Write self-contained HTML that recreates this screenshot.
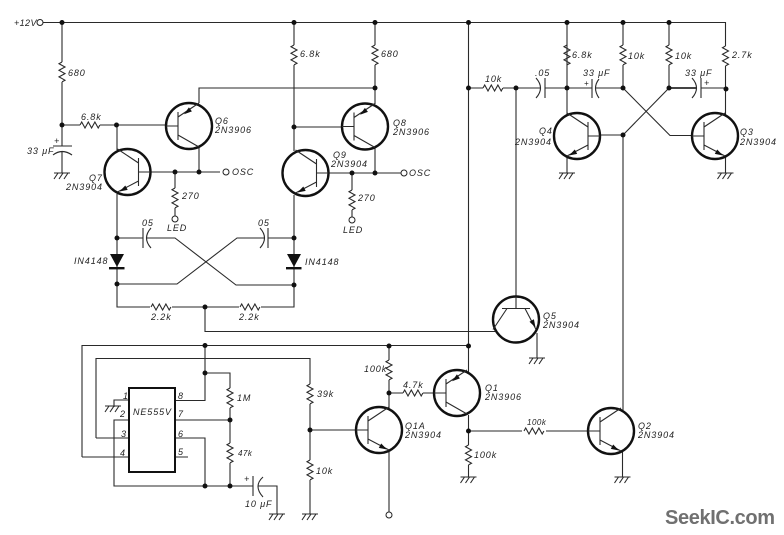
<!DOCTYPE html>
<html><head><meta charset="utf-8"><style>
html,body{margin:0;padding:0;background:#fff}
svg{display:block;filter:blur(.35px)}
.w{fill:none;stroke:#2a2a2a;stroke-width:1.1}
text{font:italic 9px "Liberation Sans",sans-serif;letter-spacing:.9px;fill:#222}
.s{font-size:8px;letter-spacing:.5px}
</style></head><body>
<svg width="784" height="535" viewBox="0 0 784 535" xmlns="http://www.w3.org/2000/svg">
<defs>
<circle id="d" r="2.500" fill="#111"/>
<circle id="o" r="3" fill="#fff" stroke="#222" stroke-width="1"/>
<path id="rv" class="w" d="M0 0l-3 1.7 6 3.3-6 3.3 6 3.3-6 3.3 6 3.3-3 1.7"/>
<path id="rh" class="w" d="M0 0l1.7-3 3.3 6 3.3-6 3.3 6 3.3-6 3.3 6 1.7-3"/>
<path id="g" class="w" d="M-8 0H8M-4 0l-4 6M1 0l-4 6M6 0l-4 6"/>
<g id="n">
<circle r="23" fill="#fff" stroke="#111" stroke-width="2.400"/>
<path class="w" d="M-23 0H-11M-11-14V14M-11-9L10-23M-11 9L10 20"/>
<polygon points="8,19.5 -0.2,17.9 2.2,13.5" fill="#111"/>
</g>
<g id="p">
<circle r="23" fill="#fff" stroke="#111" stroke-width="2.400"/>
<path class="w" d="M-23 0H-11M-11-14V14M-11-9L10-23M-11 9L10 21"/>
<polygon points="-5,-11.8 2.9,-14.6 -0.1,-18.6" fill="#111"/>
</g>
</defs>

<!-- rail and top section -->
<path class="w" d="M43 22.5H725.5V46M725.5 66V115M62 22.5V62M62 82V146M62 152V173M80 125H62M100 125H166M117 125V150M199 103V88H375M199 147V172M117 194V284M117 238H143M146 238H175L236 285H294M117 284H177L237 238H264M268 238H294M117 284V307H150M172 307H239M261 307H294V195M205 307V331.5H495"/>
<path class="w" d="M139 172H220M175 172V188M175 208V216M316 173H401M352 173V190M352 210V217"/>
<path class="w" d="M294 22.5V45M294 65V151M375 22.5V45M375 65V104M294 127H342M375 148V173"/>
<path class="w" d="M468.5 22.5V346M468.5 88H483M503 88H540M545 88H592M596 88H623M567 22.5V115M623 22.5V45M623 65V88M669 22.5V45M669 65V88M701 88H726M516 88V296M623 135V410M600 135H623M623 88L670 135.5H692M669 88L623 135"/>
<path class="w" d="M669 88H697" style="stroke-width:1.800"/>
<path class="w" d="M567 156V173M725.5 156V173M537 333V358"/>

<!-- lower -->
<path class="w" d="M82 457V345.5H468.5M96 438V358.5H310V384M310 404V460M310 480V514M205 345.5V400.5H175M205 373H230V388M230 408V443M230 463V486H114V420H129M175 420H230M175 438H205V486M175 457H188M96 438H129M82 457H129M129 400H114V407M230 486H253M277 514V486H258M310 430H356"/>
<path class="w" d="M389 346V360M389 380V410M389 393H403M423 393H434M468.5 346V373M468.5 415V445M468.5 465V477M468.5 431H522M546 431H588M389 452V512M622.5 452V477"/>

<!-- transistors -->
<use href="#p" x="189" y="126"/>
<use href="#n" transform="matrix(-1 0 0 1 127.5 172)"/>
<use href="#p" x="365" y="126.5"/>
<use href="#n" transform="matrix(-1 0 0 1 305.5 173)"/>
<use href="#n" transform="matrix(-1 0 0 1 577 136)"/>
<use href="#n" x="715" y="136"/>
<use href="#n" transform="matrix(0 1 1 0 516 319.5)"/>
<use href="#p" x="457" y="393"/>
<use href="#n" x="379" y="430"/>
<use href="#n" x="611" y="431"/>

<!-- resistors -->
<use href="#rv" x="62" y="62"/><use href="#rh" x="80" y="125"/>
<use href="#rv" x="175" y="188"/><use href="#rv" x="352" y="190"/>
<use href="#rv" x="294" y="45"/><use href="#rv" x="375" y="45"/>
<use href="#rh" x="483" y="88"/>
<use href="#rv" x="567" y="45"/><use href="#rv" x="623" y="45"/><use href="#rv" x="669" y="45"/><use href="#rv" x="725.5" y="46"/>
<use href="#rh" x="151" y="307"/><use href="#rh" x="240" y="307"/>
<use href="#rv" x="230" y="388"/><use href="#rv" x="230" y="443"/>
<use href="#rv" x="310" y="384"/><use href="#rv" x="310" y="460"/>
<use href="#rv" x="389" y="360"/><use href="#rh" x="403" y="393"/>
<use href="#rv" x="468.5" y="445"/><use href="#rh" x="524" y="431"/>

<!-- caps -->
<path class="w" d="M53 146H72M53 155Q62 148 72 155"/>
<path class="w" d="M143 228V248M151 228Q142 238 151 248M268 228V248M260 228Q269 238 260 248"/>
<path class="w" d="M545 78V98M536 78Q545 88 536 98M592 79V98M599 79Q592 88 599 98M701 78V98M692 78Q701 88 692 98M253 476V496M263 477Q253 486 263 497"/>

<!-- diodes -->
<polygon points="110,254 124,254 117,267" fill="#111"/><rect x="109" y="267" width="15.500" height="2.400" fill="#111"/>
<polygon points="287,254 301,254 294,267" fill="#111"/><rect x="286" y="267" width="15.500" height="2.400" fill="#111"/>

<!-- IC -->
<rect x="129" y="388" width="46" height="84" fill="none" stroke="#111" stroke-width="2"/>

<!-- grounds -->
<use href="#g" x="62" y="173"/><use href="#g" x="567" y="173"/><use href="#g" x="725.5" y="173"/>
<use href="#g" x="537" y="358"/><use href="#g" x="622.5" y="477"/><use href="#g" x="468.5" y="477"/>
<use href="#g" x="310" y="514"/><use href="#g" x="277" y="514"/><use href="#g" x="113" y="406"/>

<!-- dots -->
<use href="#d" x="62" y="22.500"/><use href="#d" x="62" y="125"/><use href="#d" x="116.500" y="125"/>
<use href="#d" x="175" y="172"/><use href="#d" x="199" y="172"/><use href="#d" x="294" y="22.500"/><use href="#d" x="375" y="22.500"/><use href="#d" x="375" y="88"/>
<use href="#d" x="294" y="127"/><use href="#d" x="352" y="173"/><use href="#d" x="375" y="173"/>
<use href="#d" x="468.500" y="22.500"/><use href="#d" x="468.500" y="88"/><use href="#d" x="516" y="88"/>
<use href="#d" x="567" y="22.500"/><use href="#d" x="623" y="22.500"/><use href="#d" x="669" y="22.500"/>
<use href="#d" x="567" y="88"/><use href="#d" x="623" y="88"/><use href="#d" x="669" y="88"/><use href="#d" x="726" y="89"/><use href="#d" x="623" y="135"/>
<use href="#d" x="117" y="238"/><use href="#d" x="117" y="284"/><use href="#d" x="294" y="238"/><use href="#d" x="294" y="285"/><use href="#d" x="205" y="307"/>
<use href="#d" x="205" y="345.500"/><use href="#d" x="205" y="373"/><use href="#d" x="230" y="420"/><use href="#d" x="205" y="486"/><use href="#d" x="230" y="486"/>
<use href="#d" x="310" y="430"/><use href="#d" x="389" y="346"/><use href="#d" x="468.500" y="346"/><use href="#d" x="389" y="393"/><use href="#d" x="468.500" y="431"/>

<!-- open terminals -->
<use href="#o" x="40" y="22.500"/><use href="#o" x="226" y="172"/><use href="#o" x="404" y="173"/>
<use href="#o" x="175" y="219"/><use href="#o" x="352" y="220"/><use href="#o" x="389" y="515"/>

<!-- labels -->
<text x="14" y="26" style="letter-spacing:.4px">+12V</text><text x="68" y="76">680</text><text x="81" y="120">6.8k</text>
<text x="27" y="154">33 μF</text><text x="54" y="144">+</text>
<text x="215" y="124">Q6</text><text x="215" y="133">2N3906</text><text x="232" y="175">OSC</text>
<text x="300" y="57">6.8k</text><text x="381" y="57">680</text><text x="485" y="82">10k</text>
<text x="393" y="126">Q8</text><text x="393" y="135">2N3906</text>
<text x="333" y="158">Q9</text><text x="331" y="167">2N3904</text><text x="409" y="176">OSC</text>
<text x="535" y="76">.05</text><text x="583" y="76">33 μF</text>
<text x="572" y="58">6.8k</text><text x="628" y="59">10k</text><text x="675" y="59">10k</text><text x="732" y="58">2.7k</text>
<text x="584" y="86" class="s">+</text><text x="685" y="76">33 μF</text><text x="704" y="86">+</text>
<text x="539" y="134">Q4</text><text x="515" y="145">2N3904</text><text x="740" y="135">Q3</text><text x="740" y="145">2N3904</text>
<text x="89" y="181">Q7</text><text x="66" y="190">2N3904</text>
<text x="182" y="199">270</text><text x="167" y="231">LED</text><text x="358" y="201">270</text><text x="343" y="233">LED</text>
<text x="142" y="226">05</text><text x="258" y="226">05</text>
<text x="74" y="264">IN4148</text><text x="305" y="265">IN4148</text>
<text x="151" y="320">2.2k</text><text x="239" y="320">2.2k</text>
<text x="543" y="319">Q5</text><text x="543" y="328">2N3904</text>
<text x="364" y="372">100k</text><text x="403" y="388">4.7k</text>
<text x="485" y="391">Q1</text><text x="485" y="400">2N3906</text>
<text x="405" y="429">Q1A</text><text x="405" y="438">2N3904</text>
<text x="474" y="458">100k</text><text x="317" y="397">39k</text><text x="316" y="474">10k</text>
<text x="527" y="425" class="s">100k</text>
<text x="638" y="429">Q2</text><text x="638" y="438">2N3904</text>
<text x="123" y="399">1</text><text x="120" y="417">2</text><text x="121" y="437">3</text><text x="120" y="456">4</text>
<text x="178" y="399">8</text><text x="178" y="417">7</text><text x="178" y="437">6</text><text x="178" y="455">5</text>
<text x="133" y="415">NE555V</text><text x="237" y="401">1M</text><text x="238" y="456" class="s">47k</text>
<text x="244" y="482">+</text><text x="245" y="507">10 μF</text>
<text x="665" y="524" textLength="110" lengthAdjust="spacing" style="font:bold 20px 'Liberation Sans',sans-serif;fill:#707070;letter-spacing:0">SeekIC.com</text>
</svg>
</body></html>
